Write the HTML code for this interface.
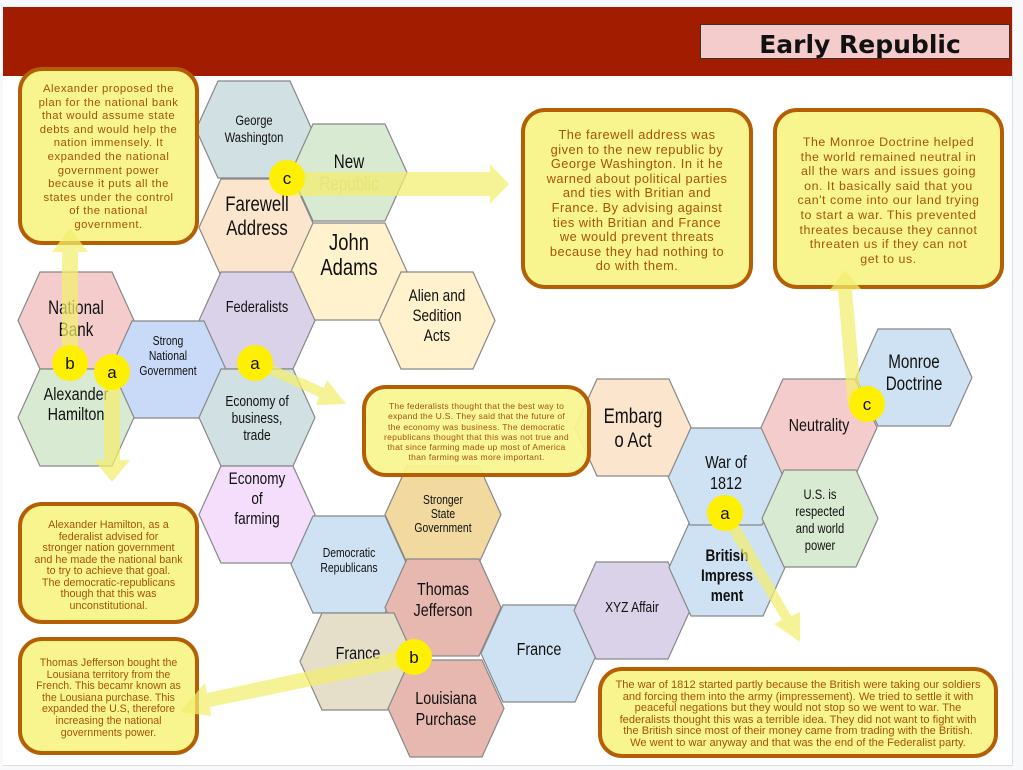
<!DOCTYPE html>
<html><head><meta charset="utf-8"><style>
html,body{margin:0;padding:0;background:#f8f9fa;}
#pg{position:relative;width:1023px;height:770px;overflow:hidden;background:#f8f9fa;}
#sheet{position:absolute;left:3px;top:7px;width:1009px;height:758px;background:#fff;border-right:1px solid #ddd;border-bottom:1px solid #ddd;}
#bar{position:absolute;left:3px;top:7px;width:1009px;height:69px;background:#a21c00;}
#title{position:absolute;left:700px;top:24px;width:310px;height:35px;background:#f4cccc;border:1px solid #333;box-sizing:border-box;font:bold 25px "DejaVu Sans","Liberation Sans",sans-serif;color:#111;text-align:center;line-height:40px;padding-left:10px;}
svg{position:absolute;left:0;top:0;}
.co{position:absolute;box-sizing:border-box;background:#f8f58f;border:4px solid #b45f06;border-radius:24px;color:#a8520a;text-align:center;font-family:"Liberation Sans",sans-serif;white-space:nowrap;}
.t{transform:scale(0.8,1);}
</style></head><body><div id="pg">
<div id="sheet"></div><div id="bar"></div>
<div id="title">Early Republic</div>

<svg width="1023" height="770" style="z-index:1" font-family="'Liberation Sans',sans-serif" text-anchor="middle" fill="#111">
<defs><polygon id="hx" points="0,48.5 22,0 94,0 116,48.5 94,97 22,97" stroke="#888" stroke-width="1.2"/></defs>
<g transform="translate(196,81)"><use href="#hx" fill="#d0e0e3"/><text class="t" x="72.5" y="44" font-size="14">George</text><text class="t" x="72.5" y="61" font-size="14">Washington</text></g>
<g transform="translate(291,124)"><use href="#hx" fill="#d9ead3"/><text class="t" x="72.5" y="44" font-size="19">New</text><text class="t" x="72.5" y="66" font-size="19" fill="#c9c68a">Republic</text></g>
<g transform="translate(199,179)"><use href="#hx" fill="#fce5cd"/><text class="t" x="72.5" y="32" font-size="21">Farewell</text><text class="t" x="72.5" y="56" font-size="21">Address</text></g>
<g transform="translate(291,223)"><use href="#hx" fill="#fff2cc"/><text class="t" x="72.5" y="27" font-size="23">John</text><text class="t" x="72.5" y="52" font-size="23">Adams</text></g>
<g transform="translate(379,272)"><use href="#hx" fill="#fff2cc"/><text class="t" x="72.5" y="29" font-size="17">Alien and</text><text class="t" x="72.5" y="49" font-size="17">Sedition</text><text class="t" x="72.5" y="69" font-size="17">Acts</text></g>
<g transform="translate(199,272)"><use href="#hx" fill="#d9d2e9"/><text class="t" x="72.5" y="40" font-size="16">Federalists</text></g>
<g transform="translate(18,272)"><use href="#hx" fill="#f4cccc"/><text class="t" x="72.5" y="42" font-size="19">National</text><text class="t" x="72.5" y="64" font-size="19">Bank</text></g>
<g transform="translate(110,321)"><use href="#hx" fill="#c9daf8"/><text class="t" x="72.5" y="24" font-size="13">Strong</text><text class="t" x="72.5" y="39" font-size="13">National</text><text class="t" x="72.5" y="54" font-size="13">Government</text></g>
<g transform="translate(18,369)"><use href="#hx" fill="#d9ead3"/><text class="t" x="72.5" y="31" font-size="18">Alexander</text><text class="t" x="72.5" y="51" font-size="18">Hamilton</text></g>
<g transform="translate(199,369)"><use href="#hx" fill="#d0e0e3"/><text class="t" x="72.5" y="37" font-size="15">Economy of</text><text class="t" x="72.5" y="54" font-size="15">business,</text><text class="t" x="72.5" y="71" font-size="15">trade</text></g>
<g transform="translate(199,466)"><use href="#hx" fill="#f4defc"/><text class="t" x="72.5" y="18" font-size="17">Economy</text><text class="t" x="72.5" y="38" font-size="17">of</text><text class="t" x="72.5" y="58" font-size="17">farming</text></g>
<g transform="translate(291,516)"><use href="#hx" fill="#cfe2f3"/><text class="t" x="72.5" y="41" font-size="13">Democratic</text><text class="t" x="72.5" y="56" font-size="13">Republicans</text></g>
<g transform="translate(385,466)"><use href="#hx" fill="#f1d9a0"/><text class="t" x="72.5" y="38" font-size="13">Stronger</text><text class="t" x="72.5" y="52" font-size="13">State</text><text class="t" x="72.5" y="66" font-size="13">Government</text></g>
<g transform="translate(385,559)"><use href="#hx" fill="#e6b8af"/><text class="t" x="72.5" y="36" font-size="18">Thomas</text><text class="t" x="72.5" y="57" font-size="18">Jefferson</text></g>
<g transform="translate(300,613)"><use href="#hx" fill="#e5dec9"/><text class="t" x="72.5" y="46" font-size="18">France</text></g>
<g transform="translate(388,660)"><use href="#hx" fill="#e6b8af"/><text class="t" x="72.5" y="44" font-size="18">Louisiana</text><text class="t" x="72.5" y="65" font-size="18">Purchase</text></g>
<g transform="translate(481,605)"><use href="#hx" fill="#cfe2f3"/><text class="t" x="72.5" y="50" font-size="18">France</text></g>
<g transform="translate(574,562)"><use href="#hx" fill="#d9d2e9"/><text class="t" x="72.5" y="50" font-size="15">XYZ Affair</text></g>
<g transform="translate(669,519)"><use href="#hx" fill="#cfe2f3"/><text class="t" x="72.5" y="42" font-size="17" font-weight="bold">British</text><text class="t" x="72.5" y="62" font-size="17" font-weight="bold">Impress</text><text class="t" x="72.5" y="82" font-size="17" font-weight="bold">ment</text></g>
<g transform="translate(668,428)"><use href="#hx" fill="#cfe2f3"/><text class="t" x="72.5" y="40" font-size="18">War of</text><text class="t" x="72.5" y="61" font-size="18">1812</text></g>
<g transform="translate(575,379)"><use href="#hx" fill="#fce5cd"/><text class="t" x="72.5" y="44" font-size="21">Embarg</text><text class="t" x="72.5" y="68" font-size="21">o Act</text></g>
<g transform="translate(761,379)"><use href="#hx" fill="#f4cccc"/><text class="t" x="72.5" y="52" font-size="18">Neutrality</text></g>
<g transform="translate(762,470)"><use href="#hx" fill="#d9ead3"/><text class="t" x="72.5" y="29" font-size="14">U.S. is</text><text class="t" x="72.5" y="46" font-size="14">respected</text><text class="t" x="72.5" y="63" font-size="14">and world</text><text class="t" x="72.5" y="80" font-size="14">power</text></g>
<g transform="translate(856,329)"><use href="#hx" fill="#cfe2f3"/><text class="t" x="72.5" y="39" font-size="19">Monroe</text><text class="t" x="72.5" y="61" font-size="19">Doctrine</text></g>
</svg>

<div class="co" style="left:18px;top:67px;width:181px;height:178px;font-size:11.3px;line-height:13.6px;letter-spacing:0.5px;z-index:2;padding-top:12px">Alexander proposed the<br>plan for the national bank<br>that would assume state<br>debts and would help the<br>nation immensely. It<br>expanded the national<br>government power<br>because it puts all the<br>states under the control<br>of the national<br>government.</div>
<div class="co" style="left:521px;top:108px;width:232px;height:181px;font-size:12.8px;line-height:14.6px;letter-spacing:0.5px;z-index:2;padding-top:16px">The farewell address was<br>given to the new republic by<br>George Washington. In it he<br>warned about political parties<br>and ties with Britian and<br>France. By advising against<br>ties with Britian and France<br>we would prevent threats<br>because they had nothing to<br>do with them.</div>
<div class="co" style="left:773px;top:108px;width:231px;height:181px;font-size:12.4px;line-height:14.6px;letter-spacing:0.55px;z-index:2;padding-top:23px">The Monroe Doctrine helped<br>the world remained neutral in<br>all the wars and issues going<br>on. It basically said that you<br>can't come into our land trying<br>to start a war. This prevented<br>threates because they cannot<br>threaten us if they can not<br>get to us.</div>
<div class="co" style="left:362px;top:385px;width:229px;height:92px;font-size:8.6px;line-height:10.3px;letter-spacing:0.25px;z-index:2;padding-top:12px;background:rgba(248,245,143,0.93)">The federalists thought that the best way to<br>expand the U.S. They said that the future of<br>the economy was business. The democratic<br>republicans thought that this was not true and<br>that since farming made up most of America<br>than farming was more important.</div>
<div class="co" style="left:18px;top:502px;width:181px;height:122px;font-size:10.8px;line-height:11.5px;z-index:2;padding-top:14px">Alexander Hamilton, as a<br>federalist advised for<br>stronger nation government<br>and he made the national bank<br>to try to achieve that goal.<br>The democratic-republicans<br>though that this was<br>unconstitutional.</div>
<div class="co" style="left:18px;top:637px;width:181px;height:118px;font-size:10.6px;line-height:11.6px;z-index:2;padding-top:17px">Thomas Jefferson bought the<br>Lousiana territory from the<br>French. This becamr known as<br>the Lousiana purchase. This<br>expanded the U.S, therefore<br>increasing the national<br>governments power.</div>
<div class="co" style="left:598px;top:667px;width:400px;height:91px;font-size:11.1px;line-height:11.6px;z-index:2;padding-top:9px">The war of 1812 started partly because the British were taking our soldiers<br>and forcing them into the army (impressement). We tried to settle it with<br>peaceful negations but they would not stop so we went to war. The<br>federalists thought this was a terrible idea. They did not want to fight with<br>the British since most of their money came from trading with the British.<br>We went to war anyway and that was the end of the Federalist party.</div>

<svg width="1023" height="770" style="z-index:3" font-family="'Liberation Sans',sans-serif" text-anchor="middle">
<g fill="#f3ef6e" fill-opacity="0.72">
<polygon points="290,172 490,172 490,164 509,184 490,204 490,196 290,196"/>
<polygon points="62,363 62,252 52,252 70,228 88,252 78,252 78,363"/>
<polygon points="104,372 104,460 94,460 112,482 130,460 120,460 120,372"/>
<polygon points="251,355 324,388 327,380 346,404 316,405 319,397 246,364"/>
<polygon points="416,648 207,693 205,683 180,712 211,716 210,707 419,664"/>
<polygon points="720,516 782,620 774,624 800,642 800,612 791,616 730,509"/>
<polygon points="862,404 852,290 861,289 845,270 829,291 838,291 848,406"/>
</g>
<g fill="#ffef00">
<circle cx="287" cy="178" r="18"/><circle cx="70" cy="363" r="18"/><circle cx="112" cy="372" r="18"/><circle cx="255" cy="363" r="18"/><circle cx="414" cy="657" r="18"/><circle cx="725" cy="513" r="18"/><circle cx="867" cy="404" r="18"/>
</g>
<g fill="#111" font-size="17">
<text x="287" y="184">c</text><text x="70" y="369">b</text><text x="112" y="378">a</text><text x="255" y="369">a</text><text x="414" y="663">b</text><text x="725" y="519">a</text><text x="867" y="410">c</text>
</g>
</svg>
</div></body></html>
